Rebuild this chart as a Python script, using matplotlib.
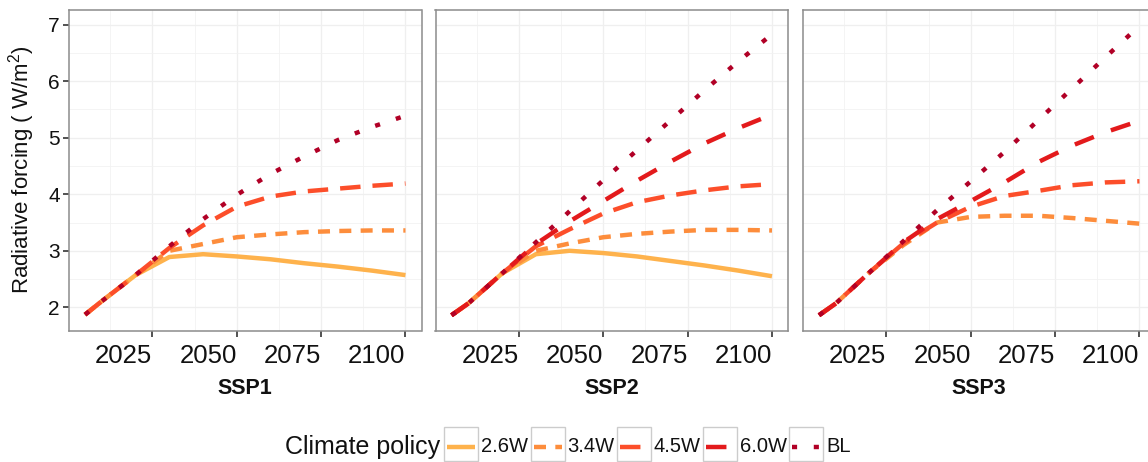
import matplotlib
matplotlib.use("Agg")
import matplotlib.pyplot as plt
from matplotlib.lines import Line2D
from matplotlib.patches import Rectangle

plt.rcParams['font.family'] = ['Liberation Sans', 'DejaVu Sans']
plt.rcParams['mathtext.default'] = 'regular'

# ---- data -----------------------------------------------------------------
years = [2005, 2010, 2020, 2030, 2040, 2050, 2060, 2070, 2080, 2090, 2100]
scenarios = ["SSP1", "SSP2", "SSP3"]
policies = ["2.6W", "3.4W", "4.5W", "6.0W", "BL"]

ssp1_26 = [1.87, 2.11, 2.57, 2.89, 2.94, 2.90, 2.85, 2.78, 2.72, 2.65, 2.57]
ssp1_34 = [1.87, 2.11, 2.57, 3.00, 3.12, 3.24, 3.29, 3.33, 3.35, 3.36, 3.36]
ssp1_45 = [1.87, 2.11, 2.57, 3.05, 3.45, 3.78, 3.96, 4.05, 4.10, 4.15, 4.19]
ssp1_bl = [1.87, 2.11, 2.57, 3.08, 3.56, 3.99, 4.36, 4.67, 4.96, 5.19, 5.39]

ssp2_26 = [1.86, 2.07, 2.60, 2.94, 3.00, 2.96, 2.90, 2.82, 2.74, 2.65, 2.55]
ssp2_34 = [1.86, 2.07, 2.60, 3.00, 3.13, 3.24, 3.30, 3.34, 3.37, 3.37, 3.36]
ssp2_45 = [1.86, 2.07, 2.60, 3.08, 3.38, 3.66, 3.86, 3.98, 4.07, 4.14, 4.18]
ssp2_60 = [1.86, 2.07, 2.60, 3.12, 3.52, 3.88, 4.24, 4.58, 4.90, 5.17, 5.41]
ssp2_bl = [1.86, 2.07, 2.60, 3.15, 3.70, 4.25, 4.78, 5.31, 5.84, 6.35, 6.83]

ssp3_34 = [1.86, 2.07, 2.62, 3.10, 3.50, 3.60, 3.62, 3.62, 3.58, 3.53, 3.48]
ssp3_45 = [1.86, 2.07, 2.62, 3.13, 3.50, 3.78, 3.97, 4.06, 4.16, 4.21, 4.23]
ssp3_60 = [1.86, 2.07, 2.62, 3.15, 3.56, 3.88, 4.21, 4.57, 4.86, 5.10, 5.30]
ssp3_bl = [1.86, 2.07, 2.62, 3.17, 3.72, 4.23, 4.75, 5.31, 5.87, 6.43, 6.98]

panels = {
    "SSP1": {"2.6W": ssp1_26, "3.4W": ssp1_34, "4.5W": ssp1_45, "BL": ssp1_bl},
    "SSP2": {"2.6W": ssp2_26, "3.4W": ssp2_34, "4.5W": ssp2_45,
             "6.0W": ssp2_60, "BL": ssp2_bl},
    "SSP3": {"3.4W": ssp3_34, "4.5W": ssp3_45, "6.0W": ssp3_60, "BL": ssp3_bl},
}

x_ticks = [2025, 2050, 2075, 2100]
y_ticks = [2, 3, 4, 5, 6, 7]

# ---- styles ---------------------------------------------------------------
colors = {"2.6W": "#FEB24C", "3.4W": "#FD8D3C", "4.5W": "#FC4E2A",
          "6.0W": "#E31A1C", "BL": "#B10026"}
dashes = {"2.6W": None, "3.4W": (2.7, 2.1), "4.5W": (4.6, 2.7),
          "6.0W": (4.6, 4.1), "BL": (1.15, 3.75)}
LW = 3.2

W, H = 1148, 462
fig = plt.figure(figsize=(W / 100, H / 100), dpi=100)

lefts = [69, 435.5, 803]
pw, top, bottom = 352.5, 10, 330.5
xlim = (2000.25, 2104.75)
ylim = (1.59, 7.26)

for i, (left, name) in enumerate(zip(lefts, scenarios)):
    ax = fig.add_axes([left / W, 1 - bottom / H, pw / W, (bottom - top) / H])
    ax.set_xlim(*xlim)
    ax.set_ylim(*ylim)
    # grid: major and minor
    for x in x_ticks:
        ax.axvline(x, color="#EFEFEF", lw=0.9, zorder=0)
    for x in [2012.5, 2037.5, 2062.5, 2087.5]:
        ax.axvline(x, color="#F2F2F2", lw=0.6, zorder=0)
    for y in y_ticks:
        ax.axhline(y, color="#EFEFEF", lw=0.9, zorder=0)
    for y in [2.5, 3.5, 4.5, 5.5, 6.5]:
        ax.axhline(y, color="#F2F2F2", lw=0.6, zorder=0)

    for pol in policies:
        if pol not in panels[name]:
            continue
        line, = ax.plot(years, panels[name][pol], color=colors[pol], lw=LW,
                        solid_capstyle="butt", dash_capstyle="butt", zorder=3)
        if dashes[pol] is not None:
            line.set_dashes(dashes[pol])

    for s in ax.spines.values():
        s.set_color("#8C8C8C")
        s.set_linewidth(1.1)
    ax.set_xticks(x_ticks)
    ax.set_xticklabels([str(t) for t in x_ticks], fontsize=18.5, ha="right")
    ax.set_yticks(y_ticks)
    if i == 0:
        ax.set_yticklabels([str(t) for t in y_ticks], fontsize=15)
    else:
        ax.tick_params(axis="y", left=False, labelleft=False)
    ax.tick_params(axis="both", length=4.5, width=1.2, color="#333333",
                   labelcolor="#111111")
    ax.tick_params(axis="x", pad=5)
    ax.tick_params(axis="y", pad=2)
    ax.text(0.5, -(388 - bottom) / (bottom - top), name, transform=ax.transAxes,
            ha="center", va="center", fontsize=15.5, fontweight="bold",
            color="#111111")

fig.text(22 / W, 1 - 170 / H, "Radiative forcing ( W/m$^2$)", rotation=90,
         ha="center", va="center", fontsize=16, color="#111111")

# ---- legend ---------------------------------------------------------------
ly = 1 - 447 / H
fig.text(440 / W, ly, "Climate policy", ha="right", va="center",
         fontsize=18, color="#111111")
key_left = [444, 530.5, 617, 703, 789]
for pol, kx in zip(policies, key_left):
    fig.add_artist(Rectangle((kx / W, 1 - 461 / H), 34 / W, 34 / H,
                             transform=fig.transFigure, facecolor="white",
                             edgecolor="#CCCCCC", lw=1.0))
    ln = Line2D([(kx + 3) / W, (kx + 31) / W], [ly, ly],
                transform=fig.transFigure, color=colors[pol], lw=LW,
                solid_capstyle="butt", dash_capstyle="butt")
    if dashes[pol] is not None:
        ln.set_dashes(dashes[pol])
    fig.add_artist(ln)
    fig.text((kx + 37) / W, ly, pol, ha="left", va="center",
             fontsize=14.5, color="#111111")

fig.savefig("out.png", dpi=100, facecolor="white")
